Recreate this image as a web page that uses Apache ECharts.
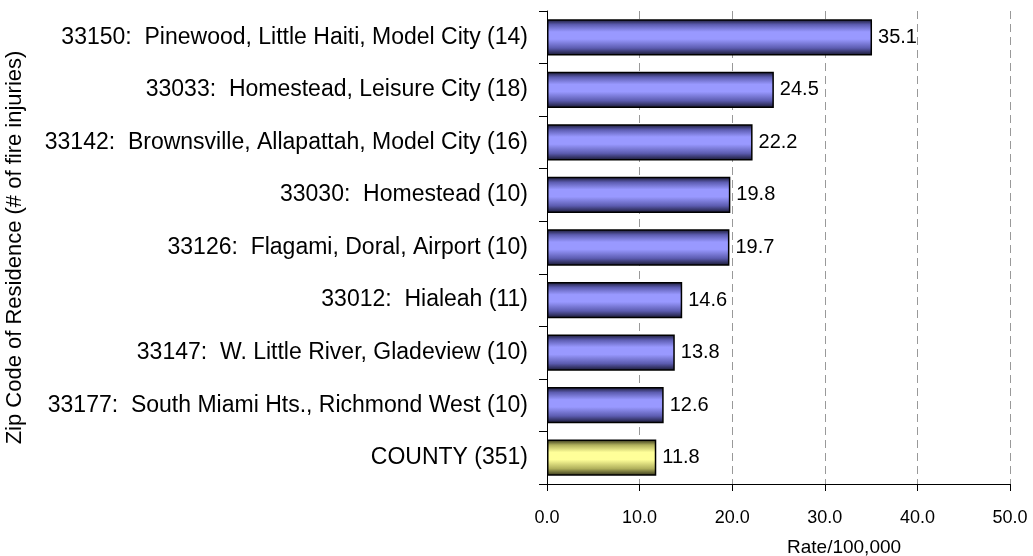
<!DOCTYPE html>
<html>
<head>
<meta charset="utf-8">
<script src="https://cdn.jsdelivr.net/npm/echarts@6/dist/echarts.min.js"></script>
<style>
  html, body { margin: 0; padding: 0; background: #fff; }
  #chart { width: 1033px; height: 556px; }
</style>
</head>
<body>
<div id="chart"></div>
<script>
// zip codes, top to bottom
const zipLabels = [
  '33150:  Pinewood, Little Haiti, Model City (14)',
  '33033:  Homestead, Leisure City (18)',
  '33142:  Brownsville, Allapattah, Model City (16)',
  '33030:  Homestead (10)',
  '33126:  Flagami, Doral, Airport (10)',
  '33012:  Hialeah (11)',
  '33147:  W. Little River, Gladeview (10)',
  '33177:  South Miami Hts., Richmond West (10)',
  'COUNTY (351)'
];
const rates = [35.1, 24.5, 22.2, 19.8, 19.7, 14.6, 13.8, 12.6, 11.8];
const xTicks = [0, 10, 20, 30, 40, 50];

const font = 'Arial, "Liberation Sans", sans-serif';

function barFill(dark, mid, light) {
  return new echarts.graphic.LinearGradient(0, 0, 0, 1, [
    { offset: 0, color: dark },
    { offset: 0.15, color: mid },
    { offset: 0.35, color: light },
    { offset: 0.55, color: light },
    { offset: 0.8, color: mid },
    { offset: 1, color: dark }
  ]);
}
const blueFill = barFill('#15152c', '#5c5cb0', '#9999ff');
const yellowFill = barFill('#2e2e16', '#b0b05c', '#ffff99');

let chart = echarts.init(document.getElementById('chart'));

let option = {
  backgroundColor: '#fff',
  animation: false,
  textStyle: { fontFamily: font },
  grid: { left: 547, right: 23, top: 11, bottom: 72 },
  xAxis: {
    type: 'value',
    min: xTicks[0],
    max: xTicks[xTicks.length - 1],
    interval: 10,
    axisLine: { show: true, lineStyle: { color: '#000', width: 1 } },
    axisTick: { show: true, length: 7, lineStyle: { color: '#000' } },
    axisLabel: {
      margin: 25,
      fontSize: 18,
      color: '#000',
      fontFamily: font,
      formatter: v => v.toFixed(1)
    },
    splitLine: { show: true, lineStyle: { color: '#999', type: [8, 5], width: 1 } }
  },
  yAxis: {
    type: 'category',
    data: zipLabels,
    inverse: true,
    name: 'Zip Code of Residence (# of fire injuries)',
    nameLocation: 'middle',
    nameGap: 521,
    nameRotate: 90,
    nameTextStyle: { fontSize: 22, color: '#000', fontFamily: font },
    axisLine: { show: true, lineStyle: { color: '#000', width: 1 } },
    axisTick: { show: true, length: 8, lineStyle: { color: '#000' } },
    axisLabel: { margin: 19, fontSize: 23, color: '#000', fontFamily: font }
  },
  graphic: [{
    type: 'text',
    left: 787,
    top: 538,
    style: { text: 'Rate/100,000', fontSize: 19, fill: '#000', fontFamily: font }
  }],
  series: [{
    type: 'bar',
    barCategoryGap: '31%',
    data: rates.map((v, i) => ({
      value: v,
      itemStyle: { color: zipLabels[i].startsWith('COUNTY') ? yellowFill : blueFill }
    })),
    itemStyle: { borderColor: '#000', borderWidth: 1.5 },
    label: {
      show: true,
      position: 'right',
      distance: 6,
      fontSize: 20,
      color: '#000',
      fontFamily: font,
      formatter: p => p.value.toFixed(1)
    }
  }]
};

chart.setOption(option);
</script>
</body>
</html>
